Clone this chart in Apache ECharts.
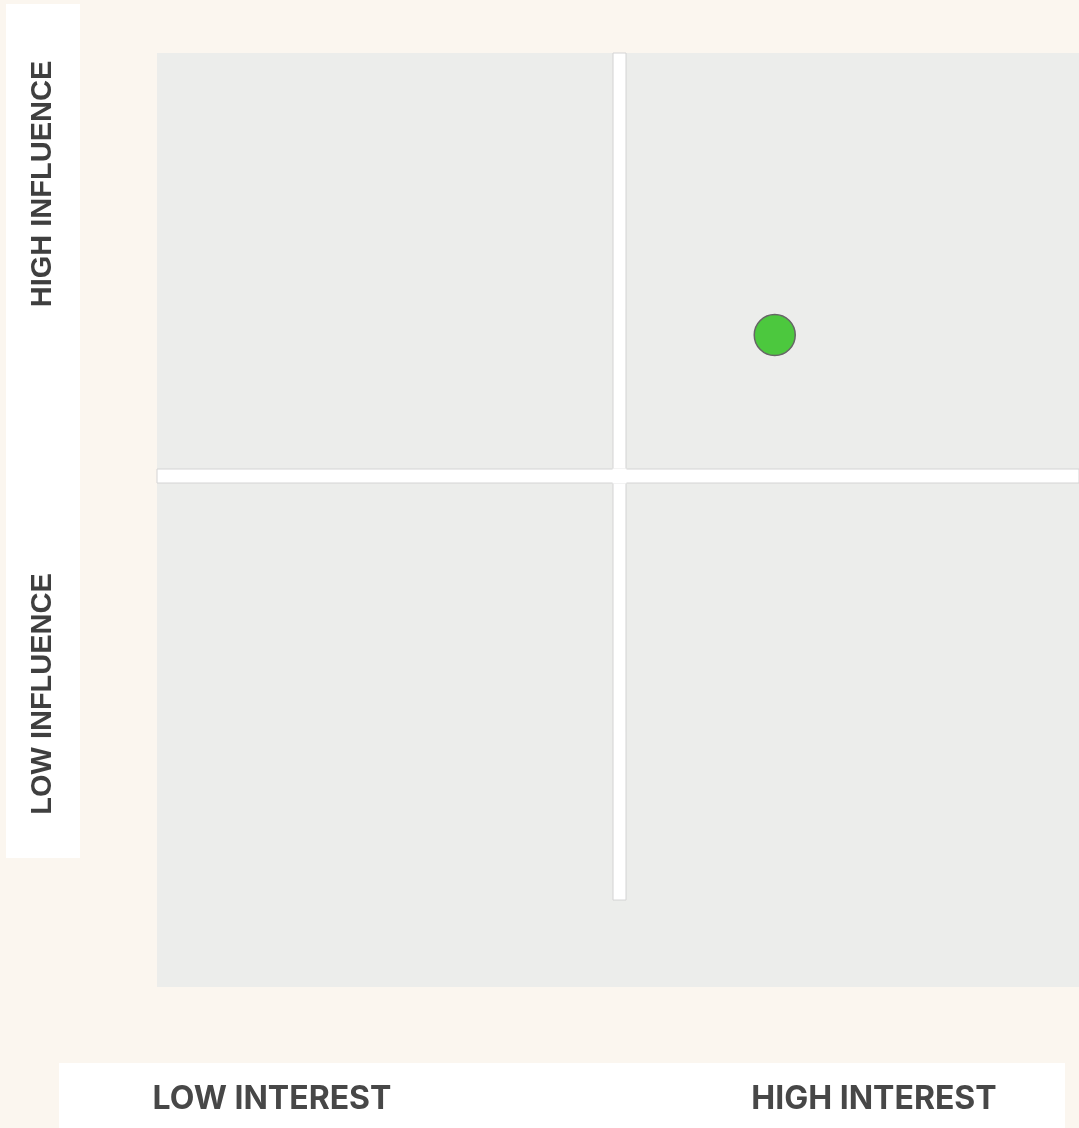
<!DOCTYPE html>
<html>
<head>
<meta charset="utf-8">
<title>Stakeholder matrix</title>
<script src="https://cdn.jsdelivr.net/npm/echarts@6/dist/echarts.min.js"></script>
<style>
  html, body { margin: 0; padding: 0; background: #fbf6ef; }
  #chart { width: 1079px; height: 1128px; }
</style>
</head>
<body>
<div id="chart"></div>
<script>
// data
const interestLabels = ["LOW INTEREST", "HIGH INTEREST"];
const influenceLabels = ["HIGH INFLUENCE", "LOW INFLUENCE"];
const stakeholderInterest = [67];
const stakeholderInfluence = [69.8];

const myChart = echarts.init(document.getElementById("chart"));

// white separators between the quadrants
const bandStyle = { color: "#ffffff", borderColor: "#d4d4d4", borderWidth: 1 };

const sideText = (text, y) => ({
  type: "text",
  x: 43,
  y: y,
  rotation: Math.PI / 2,
  style: {
    text: text,
    fill: "#3f3f3f",
    fontFamily: "'Liberation Sans', Arial, sans-serif",
    fontWeight: "bold",
    fontSize: 29,
    align: "center",
    verticalAlign: "middle",
  },
});

const bottomText = (text, x) => ({
  type: "text",
  x: x,
  y: 1099,
  style: {
    text: text,
    fill: "#474747",
    fontFamily: "Inter, 'Open Sans', sans-serif",
    fontWeight: "bold",
    fontSize: 32,
    align: "center",
    verticalAlign: "middle",
  },
});

const option = {
  backgroundColor: "#fbf6ef",
  animation: false,
  grid: {
    left: 157,
    top: 53,
    right: 0,
    bottom: 141,
    show: true,
    backgroundColor: "#ecedeb",
    borderWidth: 0,
  },
  xAxis: { type: "value", min: 0, max: 100, show: false },
  yAxis: { type: "value", min: 0, max: 100, show: false },
  graphic: [
    // left label box
    { type: "rect", left: 6, top: 4, shape: { width: 74, height: 854 }, style: { fill: "#ffffff" } },
    sideText(influenceLabels[0], 184),
    sideText(influenceLabels[1], 694),
    // bottom label box
    { type: "rect", left: 59, top: 1063, shape: { width: 1006, height: 70 }, style: { fill: "#ffffff" } },
    bottomText(interestLabels[0], 272),
    bottomText(interestLabels[1], 874),
  ],
  series: [
    {
      type: "scatter",
      symbolSize: 41,
      itemStyle: { color: "#4cc83e", borderColor: "#666666", borderWidth: 1.5, opacity: 1 },
      data: stakeholderInterest.map((v, i) => [v, stakeholderInfluence[i]]),
      z: 5,
      markArea: {
        silent: true,
        data: [
          [{ coord: [49.46, 100], itemStyle: bandStyle }, { coord: [50.87, 9.31] }],
          [{ coord: [-0.4, 55.46], itemStyle: bandStyle }, { coord: [100.5, 53.96] }],
          // clean crossing
          [{ coord: [49.41, 55.51], itemStyle: { color: "#ffffff", borderWidth: 0 } }, { coord: [50.92, 53.91] }],
        ],
      },
    },
  ],
};

myChart.setOption(option);
</script>
</body>
</html>
